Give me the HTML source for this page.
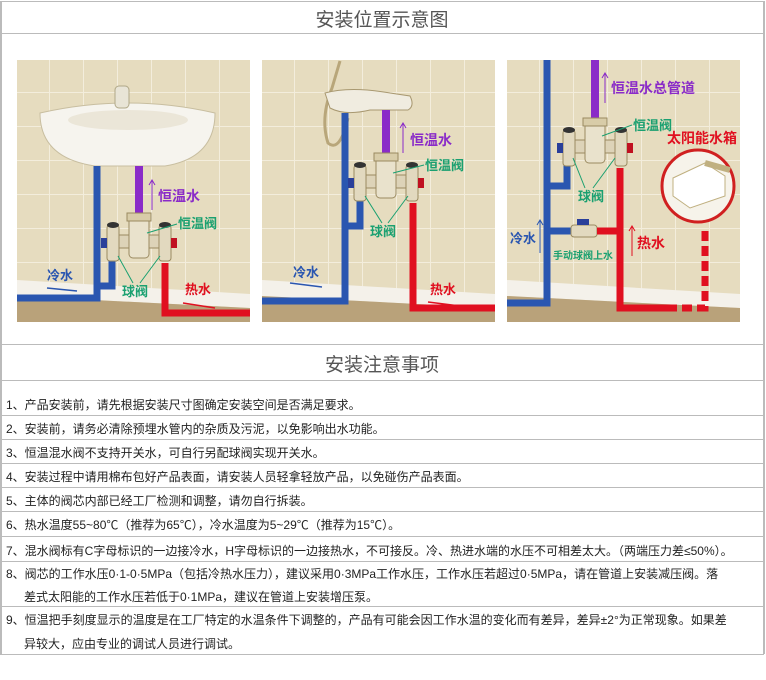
<!DOCTYPE html>
<html><head><meta charset="utf-8"><style>
body{margin:0;width:766px;height:680px;background:#fff;position:relative;overflow:hidden;font-family:"Liberation Sans","Noto Sans CJK SC",sans-serif}
.t{position:absolute;left:0;width:764px;text-align:center;color:#555;font-size:19px}
.hl{position:absolute;left:0;width:764px;height:0;border-top:1px solid #bbb}
.vl{position:absolute;width:0;border-left:2px solid #bbb}
.r{position:absolute;left:6px;font-size:12px;color:#222;white-space:nowrap}
svg{position:absolute}
svg text{font-family:"Liberation Sans","Noto Sans CJK SC",sans-serif;font-weight:bold}
</style></head><body>
<div class="hl" style="top:1px"></div>
<div class="t" style="top:5px">安装位置示意图</div>
<div class="hl" style="top:33px"></div>
<div class="vl" style="left:0;top:1px;height:653px"></div>
<div class="vl" style="left:763px;top:1px;height:653px"></div>
<div class="hl" style="top:344px"></div>
<div class="t" style="top:350px">安装注意事项</div>
<div class="hl" style="top:380px"></div>

<svg width="0" height="0" style="position:absolute">
<defs>
<pattern id="tile" width="34" height="34" patternUnits="userSpaceOnUse"><rect width="34" height="34" fill="#e6dcbf"/><path d="M0 0H34M0 0V34" stroke="#f3eddc" stroke-width="2"/></pattern>
<g id="valve">
<rect x="-30" y="22" width="60" height="13" fill="#ddd3b8" stroke="#9a8a60"/>
<rect x="-10" y="0" width="20" height="45" rx="4" fill="#e9e2cc" stroke="#9a8a60"/>
<rect x="-12" y="0" width="24" height="8" fill="#d8cca8" stroke="#9a8a60"/>
<rect x="-32" y="12" width="12" height="36" rx="3" fill="#e2d9bf" stroke="#9a8a60"/>
<ellipse cx="-26" cy="12" rx="6" ry="3" fill="#333"/>
<rect x="20" y="12" width="12" height="36" rx="3" fill="#e2d9bf" stroke="#9a8a60"/>
<ellipse cx="26" cy="12" rx="6" ry="3" fill="#333"/>
<rect x="-38" y="25" width="6" height="10" fill="#2a3f9a"/>
<rect x="32" y="25" width="6" height="10" fill="#c01020"/>
</g>
</defs></svg>

<!-- panel 1 -->
<svg style="left:15px;top:58px" width="240" height="265" viewBox="0 0 240 265">
<defs><clipPath id="c1"><rect x="2" y="2" width="233" height="262"/></clipPath></defs>
<g clip-path="url(#c1)">
<rect x="2" y="2" width="233" height="262" fill="url(#tile)"/>
<path d="M2 222 L235 236 L235 250 L2 238Z" fill="#f4f1ea"/>
<path d="M2 238 L235 250 L235 264 L2 264Z" fill="#b9a27a"/>
<path d="M25 55 Q113 35 200 55 Q200 100 150 108 L80 108 Q25 100 25 55Z" fill="#f6f4ee" stroke="#c8bea0"/>
<ellipse cx="113" cy="62" rx="60" ry="10" fill="#ebe6d8"/>
<rect x="100" y="28" width="14" height="22" rx="4" fill="#e8e4d6" stroke="#b0a888"/>
<path d="M82 108 V240 H2" stroke="#2a56b0" stroke-width="7" fill="none"/>
<path d="M82 228 H97 V200" stroke="#2a56b0" stroke-width="7" fill="none"/>
<path d="M124 108 V155" stroke="#8a2bc8" stroke-width="8" fill="none"/>
<path d="M150 205 V255 H235" stroke="#e01020" stroke-width="7" fill="none"/>
<use href="#valve" x="124" y="155"/>
<path d="M137 152 V122" stroke="#8a2bc8" stroke-width="1"/><path d="M134 127 L137 122 L140 127" stroke="#8a2bc8" fill="none"/>
<text x="143" y="143" font-size="14" fill="#8a2bc8">恒温水</text>
<text x="163" y="170" font-size="13" fill="#1aa070">恒温阀</text>
<path d="M162 166 L132 175" stroke="#1aa070"/>
<text x="32" y="222" font-size="13" fill="#2a56b0">冷水</text>
<path d="M32 230 L62 233" stroke="#2a56b0" stroke-width="1.5"/>
<text x="107" y="238" font-size="13" fill="#1aa070">球阀</text>
<path d="M118 225 L103 198 M125 225 L145 198" stroke="#1aa070"/>
<text x="170" y="236" font-size="13" fill="#e01020">热水</text>
<path d="M200 250 L168 245" stroke="#e01020" stroke-width="1.5"/>
</g></svg>

<!-- panel 2 -->
<svg style="left:260px;top:58px" width="240" height="265" viewBox="0 0 240 265">
<defs><clipPath id="c2"><rect x="2" y="2" width="233" height="262"/></clipPath></defs>
<g clip-path="url(#c2)">
<rect x="2" y="2" width="233" height="262" fill="url(#tile)"/>
<path d="M2 222 L235 236 L235 250 L2 238Z" fill="#f4f1ea"/>
<path d="M2 238 L235 250 L235 264 L2 264Z" fill="#b9a27a"/>
<path d="M80 3 L72 30 Q60 60 68 85 Q80 95 88 60" stroke="#b8a67a" stroke-width="3" fill="none"/>
<path d="M65 35 Q90 28 130 35 L150 38 Q155 48 148 52 L110 52 Q85 58 70 50Z" fill="#f0ece0" stroke="#a89870"/>
<path d="M85 55 V243 H2" stroke="#2a56b0" stroke-width="7" fill="none"/>
<path d="M85 168 H100 V140" stroke="#2a56b0" stroke-width="7" fill="none"/>
<path d="M126 52 V95" stroke="#8a2bc8" stroke-width="8" fill="none"/>
<path d="M153 145 V250 H235" stroke="#e01020" stroke-width="7" fill="none"/>
<use href="#valve" x="126" y="95"/>
<path d="M143 95 V65" stroke="#8a2bc8" stroke-width="1"/><path d="M140 70 L143 65 L146 70" stroke="#8a2bc8" fill="none"/>
<text x="150" y="87" font-size="14" fill="#8a2bc8">恒温水</text>
<text x="165" y="112" font-size="13" fill="#1aa070">恒温阀</text>
<path d="M164 107 L133 115" stroke="#1aa070"/>
<text x="110" y="178" font-size="13" fill="#1aa070">球阀</text>
<path d="M122 165 L105 138 M128 165 L148 138" stroke="#1aa070"/>
<text x="33" y="219" font-size="13" fill="#2a56b0">冷水</text>
<path d="M30 225 L62 229" stroke="#2a56b0" stroke-width="1.5"/>
<text x="170" y="236" font-size="13" fill="#e01020">热水</text>
<path d="M200 248 L168 244" stroke="#e01020" stroke-width="1.5"/>
</g></svg>

<!-- panel 3 -->
<svg style="left:505px;top:58px" width="240" height="265" viewBox="0 0 240 265">
<defs><clipPath id="c3"><rect x="2" y="2" width="233" height="262"/></clipPath></defs>
<g clip-path="url(#c3)">
<rect x="2" y="2" width="233" height="262" fill="url(#tile)"/>
<path d="M2 222 L235 236 L235 250 L2 238Z" fill="#f4f1ea"/>
<path d="M2 238 L235 250 L235 264 L2 264Z" fill="#b9a27a"/>
<path d="M42 0 V245 H2" stroke="#2a56b0" stroke-width="7" fill="none"/>
<path d="M42 128 H62 V100" stroke="#2a56b0" stroke-width="7" fill="none"/>
<path d="M42 173 H68" stroke="#2a56b0" stroke-width="7"/>
<rect x="66" y="167" width="26" height="12" rx="3" fill="#e2d9bf" stroke="#9a8a60"/>
<rect x="72" y="161" width="12" height="6" fill="#2a3f9a"/>
<path d="M92 173 H115" stroke="#e01020" stroke-width="7"/>
<path d="M90 0 V60" stroke="#8a2bc8" stroke-width="8"/>
<path d="M115 110 V250 H162" stroke="#e01020" stroke-width="7" fill="none"/>
<path d="M162 250 H200 V168" stroke="#e01020" stroke-width="7" fill="none" stroke-dasharray="10 5"/>
<use href="#valve" x="90" y="60"/>
<circle cx="193" cy="128" r="36" fill="#f6f3ea" stroke="#d02020" stroke-width="3"/>
<path d="M168 120 L200 105 L220 118 L220 138 L185 150 L168 138Z" fill="#fff" stroke="#c0b080"/>
<path d="M200 105 L225 112" stroke="#c0b080" stroke-width="6"/>
<path d="M100 45 V15" stroke="#8a2bc8" stroke-width="1"/><path d="M97 20 L100 15 L103 20" stroke="#8a2bc8" fill="none"/>
<text x="106" y="35" font-size="14" fill="#8a2bc8">恒温水总管道</text>
<text x="128" y="72" font-size="13" fill="#1aa070">恒温阀</text>
<path d="M127 67 L97 78" stroke="#1aa070"/>
<text x="162" y="85" font-size="14" fill="#e01020">太阳能水箱</text>
<text x="73" y="143" font-size="13" fill="#1aa070">球阀</text>
<path d="M80 130 L68 100 M88 130 L110 100" stroke="#1aa070"/>
<text x="5" y="185" font-size="13" fill="#2a56b0">冷水</text>
<path d="M35 195 V162" stroke="#2a56b0" stroke-width="1"/><path d="M32 167 L35 162 L38 167" stroke="#2a56b0" fill="none"/>
<text x="48" y="201" font-size="10" fill="#1aa070">手动球阀上水</text>
<text x="132" y="190" font-size="14" fill="#e01020">热水</text>
<path d="M127 198 V168" stroke="#e01020" stroke-width="1"/><path d="M124 173 L127 168 L130 173" stroke="#e01020" fill="none"/>
</g></svg>

<div class="r" style="top:396px">1、产品安装前，请先根据安装尺寸图确定安装空间是否满足要求。</div>
<div class="hl" style="top:415px"></div>
<div class="r" style="top:420px">2、安装前，请务必清除预埋水管内的杂质及污泥，以免影响出水功能。</div>
<div class="hl" style="top:439px"></div>
<div class="r" style="top:444px">3、恒温混水阀不支持开关水，可自行另配球阀实现开关水。</div>
<div class="hl" style="top:463px"></div>
<div class="r" style="top:468px">4、安装过程中请用棉布包好产品表面，请安装人员轻拿轻放产品，以免碰伤产品表面。</div>
<div class="hl" style="top:487px"></div>
<div class="r" style="top:492px">5、主体的阀芯内部已经工厂检测和调整，请勿自行拆装。</div>
<div class="hl" style="top:511px"></div>
<div class="r" style="top:516px">6、热水温度55~80℃（推荐为65℃），冷水温度为5~29℃（推荐为15℃）。</div>
<div class="hl" style="top:536px"></div>
<div class="r" style="top:542px">7、混水阀标有C字母标识的一边接冷水，H字母标识的一边接热水，不可接反。冷、热进水端的水压不可相差太大。（两端压力差≤50%）。</div>
<div class="hl" style="top:561px"></div>
<div class="r" style="top:565px">8、阀芯的工作水压0·1-0·5MPa（包括冷热水压力），建议采用0·3MPa工作水压，工作水压若超过0·5MPa，请在管道上安装减压阀。落</div>
<div class="r" style="top:588px;left:24px">差式太阳能的工作水压若低于0·1MPa，建议在管道上安装增压泵。</div>
<div class="hl" style="top:606px"></div>
<div class="r" style="top:611px">9、恒温把手刻度显示的温度是在工厂特定的水温条件下调整的，产品有可能会因工作水温的变化而有差异，差异±2°为正常现象。如果差</div>
<div class="r" style="top:635px;left:24px">异较大，应由专业的调试人员进行调试。</div>
<div class="hl" style="top:654px"></div>
</body></html>
